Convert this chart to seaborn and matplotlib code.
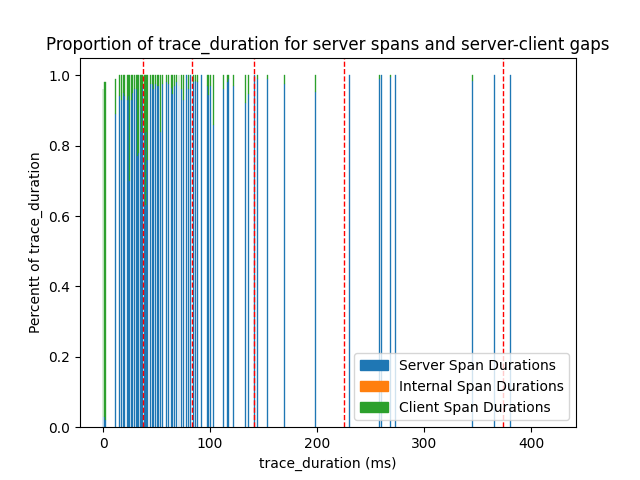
import pandas as pd
import seaborn as sns
from matplotlib import pyplot
from matplotlib.patches import Patch

# trace duration (ms) and the share of it spent in each kind of span
durations = [0, 1, 2, 12, 15, 17, 19, 20, 23, 24, 25, 27, 28, 29, 31, 32, 33, 35, 36, 37,
             39, 40, 41, 42, 44, 46, 47, 49, 51, 52, 54, 56, 59, 61, 64, 65, 67, 69, 71, 73,
             75, 78, 80, 82, 85, 86, 88, 92, 98, 99, 100, 103, 113, 116, 117, 122, 133, 136,
             142, 144, 154, 170, 199, 230, 258, 260, 269, 273, 345, 366, 381]
server = [0.03, 0.03, 0.02, 0.89, 0.94, 0.93, 0.95, 0.94, 0.93, 0.94, 0.70, 0.93, 0.95, 0.96, 0.96, 0.77, 0.78, 0.91, 0.84, 0.97,
          0.84, 0.63, 0.84, 0.76, 0.975, 0.975, 0.96, 0.975, 0.97, 0.97, 0.84, 0.975, 0.98, 0.975, 0.965, 0.947, 0.97, 0.98, 0.97, 0.96,
          0.93, 1.0, 0.96, 1.0, 0.98, 0.984, 0.98, 1.0, 0.97, 0.943, 0.97, 0.858, 0.962, 0.98, 0.99, 0.97, 0.92, 0.948,
          1.0, 0.99, 0.99, 0.975, 0.953, 1.0, 0.99, 1.0, 0.995, 1.0, 0.984, 1.0, 1.0]
internal = [0.0] * len(durations)
client = [0.93, 0.95, 0.96, 0.10, 0.06, 0.07, 0.05, 0.06, 0.07, 0.06, 0.30, 0.07, 0.05, 0.04, 0.04, 0.23, 0.22, 0.09, 0.16, 0.03,
          0.16, 0.37, 0.16, 0.24, 0.025, 0.025, 0.04, 0.025, 0.03, 0.03, 0.16, 0.025, 0.02, 0.025, 0.035, 0.053, 0.03, 0.02, 0.03, 0.04,
          0.07, 0.0, 0.04, 0.0, 0.02, 0.016, 0.02, 0.0, 0.03, 0.057, 0.03, 0.142, 0.038, 0.02, 0.01, 0.03, 0.08, 0.052,
          0.0, 0.01, 0.01, 0.025, 0.047, 0.0, 0.01, 0.0, 0.005, 0.0, 0.016, 0.0, 0.0]
percentiles = [37.5, 83.5, 141.5, 225.5, 374]

labels = ['Server Span Durations', 'Internal Span Durations', 'Client Span Durations']
colors = ['#1f77b4', '#ff7f0e', '#2ca02c']

df = pd.DataFrame({'trace_duration': durations, labels[0]: server,
                   labels[1]: internal, labels[2]: client})
long = df.melt(id_vars='trace_duration', var_name='kind', value_name='share')

fig, ax = pyplot.subplots(figsize=(6.4, 4.8), dpi=100)
sns.histplot(data=long, x='trace_duration', weights='share', hue='kind',
             hue_order=labels[::-1], palette=dict(zip(labels, colors)),
             multiple='stack', discrete=True, shrink=0.9, alpha=1,
             linewidth=0.25, legend=False, ax=ax)
# give each bar an edge in its own colour so the thin bars stay solid
for bar in ax.patches:
    if bar.get_height() > 0:
        bar.set_edgecolor(bar.get_facecolor())
    else:
        bar.set_visible(False)

for p in percentiles:
    ax.axvline(p, color='red', linestyle='--', linewidth=1)

ax.set_xlim(-21.5, 442)
ax.set_ylim(0, 1.05)
ax.set_title('Proportion of trace_duration for server spans and server-client gaps')
ax.set_xlabel('trace_duration (ms)')
ax.set_ylabel('Percentt of trace_duration')
ax.legend(handles=[Patch(color=c) for c in colors], labels=labels, loc='lower right')
fig.savefig('out.png')
